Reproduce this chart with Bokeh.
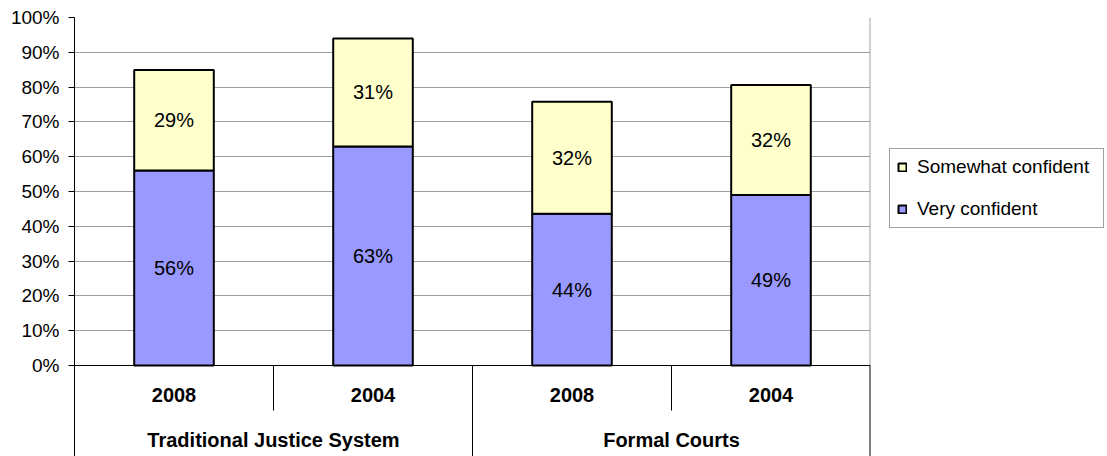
from bokeh.plotting import figure
from bokeh.models import (ColumnDataSource, FactorRange, Range1d, FixedTicker,
                          PrintfTickFormatter, Legend, LegendItem)
from bokeh.core.properties import value
from bokeh.embed import file_html
from bokeh.resources import INLINE

# ---- data ----
groups = ["Traditional Justice System", "Traditional Justice System", "Formal Courts", "Formal Courts"]
years = ["2008", "2004", "2008", "2004"]
very_confident = [56.0, 62.9, 43.6, 49.0]
somewhat_confident = [28.9, 31.1, 32.2, 31.6]
series_names = ["Somewhat confident", "Very confident"]
y_ticks = [0, 10, 20, 30, 40, 50, 60, 70, 80, 90, 100]

# ---- layout constants (pixels) ----
FIG_W, FIG_H = 1107, 456
LEFT, TOP = 74, 17
FRAME_W = 796
FRAME_H = FIG_H - TOP
PLOT_H = 348          # height of 0..100 region
PX = PLOT_H / 100.0   # px per percent
y_bottom = -(FRAME_H - PLOT_H) / PX
YEAR_LABEL_Y = -29.5 / PX
GROUP_LABEL_Y = -74.0 / PX
INNER_SEP_Y = -45.0 / PX

FONT = "Liberation Sans"

factors = list(zip(groups, years))
x_range = FactorRange(*factors, range_padding=0, factor_padding=0, group_padding=0,
                      subgroup_padding=0)

p = figure(frame_width=FRAME_W, frame_height=FRAME_H, x_range=x_range,
           y_range=Range1d(y_bottom, 100),
           output_backend="svg", toolbar_location=None,
           x_axis_location=None,
           min_border_left=LEFT, min_border_top=TOP, min_border_bottom=0,
           min_border_right=FIG_W - LEFT - FRAME_W)
p.outline_line_color = None
p.background_fill_color = "white"
p.border_fill_color = "white"

# y axis
yax = p.yaxis[0]
yax.ticker = FixedTicker(ticks=y_ticks)
yax.formatter = PrintfTickFormatter(format="%d%%")
yax.axis_line_color = "black"
yax.axis_line_width = 1
yax.major_tick_out = 6
yax.major_tick_in = 0
yax.major_tick_line_color = "black"
yax.minor_tick_line_color = None
yax.major_label_text_font = FONT
yax.major_label_text_font_size = "19px"
yax.major_label_text_color = "black"
yax.major_label_standoff = 9

p.xgrid.visible = False
p.ygrid.ticker = FixedTicker(ticks=y_ticks[1:])
p.ygrid.grid_line_color = "#a0a0a0"
p.ygrid.grid_line_width = 1

# bars
very_top = very_confident
som_top = [v + s for v, s in zip(very_confident, somewhat_confident)]
src = ColumnDataSource(dict(x=factors, very=very_confident, som=somewhat_confident,
                            very_top=very_top, som_top=som_top, zero=[0] * 4))
r_very = p.vbar(x="x", bottom="zero", top="very_top", width=0.4, source=src,
                fill_color="#9999ff", line_color="black", line_width=2)
r_som = p.vbar(x="x", bottom="very_top", top="som_top", width=0.4, source=src,
               fill_color="#ffffcc", line_color="black", line_width=2)

# data labels
lab = ColumnDataSource(dict(
    x=factors + factors,
    y=[v / 2 for v in very_confident] + [v + s / 2 for v, s in zip(very_confident, somewhat_confident)],
    t=[f"{round(v)}%" for v in very_confident] + [f"{round(s)}%" for s in somewhat_confident],
))
p.text(x="x", y="y", text="t", source=lab, text_font=value(FONT), text_font_size="20px",
       text_align="center", text_baseline="middle", text_color="black")

# right plot border (gray) from 0 to 100
last = factors[-1]
p.segment(x0=[(last[0], last[1], 0.5)], y0=[0], x1=[(last[0], last[1], 0.5)], y1=[100],
          line_color="#a0a0a0", line_width=2)

# category axis: baseline
first = factors[0]
p.segment(x0=[(first[0], first[1], -0.5)], y0=[0], x1=[(last[0], last[1], 0.5)], y1=[0],
          line_color="black", line_width=1)

# inner separators (between years within a group)
inner_x = [(g, y, -0.5) for (g, y), (pg, py) in zip(factors[1:], factors[:-1]) if g == pg]
p.segment(x0=inner_x, y0=[0] * len(inner_x), x1=inner_x, y1=[INNER_SEP_Y] * len(inner_x),
          line_color="black", line_width=1)
# outer separators (group boundaries)
outer_x = [(g, y, -0.5) for (g, y), (pg, py) in zip(factors[1:], factors[:-1]) if g != pg]
p.segment(x0=outer_x, y0=[0] * len(outer_x), x1=outer_x, y1=[y_bottom] * len(outer_x),
          line_color="black", line_width=1)
end_x = [(last[0], last[1], 0.5)]
p.segment(x0=end_x, y0=[0], x1=end_x, y1=[y_bottom], line_color="black", line_width=2)

# year labels
p.text(x=factors, y=[YEAR_LABEL_Y] * len(factors), text=years, text_font=value(FONT),
       text_font_size="20px", text_font_style="bold", text_align="center",
       text_baseline="middle", text_color="black")
# group labels
ugroups = list(dict.fromkeys(groups))
p.text(x=ugroups, y=[GROUP_LABEL_Y] * len(ugroups), text=ugroups, text_font=value(FONT),
       text_font_size="20px", text_font_style="bold", text_align="center",
       text_baseline="middle", text_color="black")

legend = Legend(items=[LegendItem(label=series_names[0], renderers=[r_som]),
                       LegendItem(label=series_names[1], renderers=[r_very])],
                location=(19, 228))
legend.label_text_font = FONT
legend.label_text_font_size = "19px"
legend.label_text_color = "black"
legend.glyph_width = 10
legend.glyph_height = 10
legend.label_standoff = 10
legend.label_height = 20
legend.label_width = 179
legend.spacing = 20
legend.padding = 7
legend.margin = 0
legend.border_line_color = "#444444"
legend.border_line_width = 1
legend.background_fill_color = "white"
legend.background_fill_alpha = 1
p.add_layout(legend, "right")

open("out.html", "w").write(file_html(p, INLINE))
